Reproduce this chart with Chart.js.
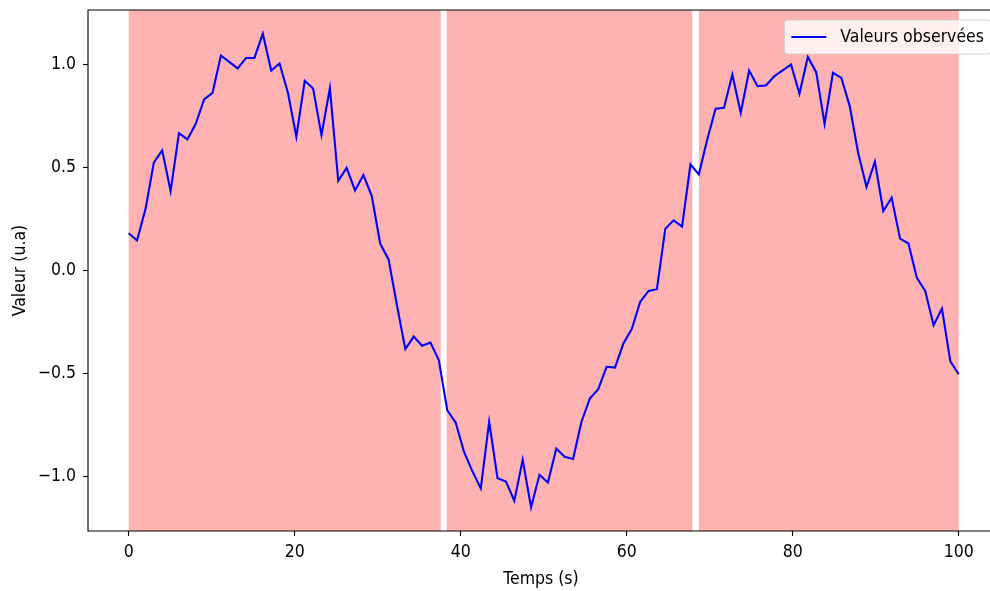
<!DOCTYPE html>
<html lang="fr">
<head>
<meta charset="utf-8">
<title>Valeurs observées</title>
<script src="https://cdn.jsdelivr.net/npm/chart.js@4/dist/chart.umd.min.js"></script>
<style>
  html, body { margin: 0; padding: 0; background: #ffffff; overflow: hidden; }
  canvas { display: block; }
</style>
</head>
<body>
<canvas id="c" width="994" height="591"></canvas>
<script>
// Instants de mesure (s)
const temps = [
  0, 1.01, 2.02, 3.03, 4.04, 5.05, 6.06, 7.07, 8.08, 9.09,
  10.10, 11.11, 12.12, 13.13, 14.14, 15.15, 16.16, 17.17, 18.18, 19.19,
  20.20, 21.21, 22.22, 23.23, 24.24, 25.25, 26.26, 27.27, 28.28, 29.29,
  30.30, 31.31, 32.32, 33.33, 34.34, 35.35, 36.36, 37.37, 38.38, 39.39,
  40.40, 41.41, 42.42, 43.43, 44.44, 45.45, 46.46, 47.47, 48.48, 49.49,
  50.51, 51.52, 52.53, 53.54, 54.55, 55.56, 56.57, 57.58, 58.59, 59.60,
  60.61, 61.62, 62.63, 63.64, 64.65, 65.66, 66.67, 67.68, 68.69, 69.70,
  70.71, 71.72, 72.73, 73.74, 74.75, 75.76, 76.77, 77.78, 78.79, 79.80,
  80.81, 81.82, 82.83, 83.84, 84.85, 85.86, 86.87, 87.88, 88.89, 89.90,
  90.91, 91.92, 92.93, 93.94, 94.95, 95.96, 96.97, 97.98, 98.99, 100
];

// Valeurs observées (u.a)
const valeurs = [
  0.180, 0.145, 0.296, 0.523, 0.583, 0.385, 0.667, 0.636, 0.712, 0.830,
  0.862, 1.044, 1.013, 0.981, 1.032, 1.032, 1.150, 0.971, 1.005, 0.862,
  0.649, 0.921, 0.883, 0.657, 0.885, 0.435, 0.498, 0.388, 0.463, 0.361,
  0.130, 0.053, -0.170, -0.383, -0.322, -0.367, -0.351, -0.437, -0.680, -0.740,
  -0.882, -0.977, -1.060, -0.736, -1.011, -1.027, -1.120, -0.921, -1.152, -0.994,
  -1.031, -0.866, -0.906, -0.917, -0.736, -0.623, -0.578, -0.469, -0.473, -0.356,
  -0.286, -0.154, -0.100, -0.092, 0.202, 0.243, 0.212, 0.515, 0.466, 0.636,
  0.785, 0.790, 0.951, 0.765, 0.971, 0.895, 0.898, 0.943, 0.972, 1.000,
  0.858, 1.037, 0.963, 0.712, 0.960, 0.935, 0.798, 0.571, 0.405, 0.528,
  0.288, 0.353, 0.154, 0.130, -0.036, -0.100, -0.267, -0.186, -0.443, -0.505
];

// Zones surlignées (début / fin, en s)
const zonesDebut = [0, 38.3, 68.7];
const zonesFin = [37.6, 67.9, 100];

// Graduations
const ticksX = [0, 20, 40, 60, 80, 100];
const ticksY = [-1.0, -0.5, 0.0, 0.5, 1.0];

const libelleSerie = 'Valeurs observées';
const titreX = 'Temps (s)';
const titreY = 'Valeur (u.a)';

const POLICE = "'DejaVu Sans Condensed', 'DejaVu Sans', sans-serif";
const TAILLE = 17.5;
const police = { family: POLICE, size: TAILLE };

const moins = s => s.replace('-', '\u2212');

// Bandes rouges translucides derrière la courbe
const pluginZones = {
  id: 'zones',
  beforeDatasetsDraw(chart) {
    const { ctx, chartArea: ca, scales: { x } } = chart;
    ctx.save();
    ctx.fillStyle = 'rgba(255, 0, 0, 0.3)';
    for (let i = 0; i < zonesDebut.length; i++) {
      const x0 = x.getPixelForValue(zonesDebut[i]);
      const x1 = x.getPixelForValue(zonesFin[i]);
      ctx.fillRect(x0, ca.top, x1 - x0, ca.bottom - ca.top);
    }
    ctx.restore();
  }
};

// Axes (gauche, haut, bas) et légende dans le coin supérieur droit
const pluginCadre = {
  id: 'cadre',
  afterDatasetsDraw(chart) {
    const { ctx, chartArea: ca } = chart;
    const w = chart.width;
    ctx.save();
    ctx.strokeStyle = '#000000';
    ctx.lineWidth = 1.1;
    ctx.beginPath();
    ctx.moveTo(w + 5, ca.top);
    ctx.lineTo(ca.left, ca.top);
    ctx.lineTo(ca.left, ca.bottom);
    ctx.lineTo(w + 5, ca.bottom);
    ctx.stroke();

    // Légende
    const ds = chart.data.datasets[0];
    ctx.font = `${TAILLE}px ${POLICE}`;
    const largeurTexte = ctx.measureText(ds.label).width;
    const pad = 0.4 * TAILLE;
    const poignee = 2.0 * TAILLE;
    const ecart = 0.8 * TAILLE;
    const droite = 991;
    const largeur = pad + poignee + ecart + largeurTexte + pad;
    const gauche = droite - largeur;
    const haut = ca.top + 10;
    const hauteur = 34;
    const r = 3.5;
    ctx.beginPath();
    ctx.moveTo(gauche + r, haut);
    ctx.lineTo(droite - r, haut);
    ctx.arcTo(droite, haut, droite, haut + r, r);
    ctx.lineTo(droite, haut + hauteur - r);
    ctx.arcTo(droite, haut + hauteur, droite - r, haut + hauteur, r);
    ctx.lineTo(gauche + r, haut + hauteur);
    ctx.arcTo(gauche, haut + hauteur, gauche, haut + hauteur - r, r);
    ctx.lineTo(gauche, haut + r);
    ctx.arcTo(gauche, haut, gauche + r, haut, r);
    ctx.closePath();
    ctx.fillStyle = 'rgba(255, 255, 255, 0.8)';
    ctx.fill();
    ctx.strokeStyle = 'rgba(204, 204, 204, 0.8)';
    ctx.lineWidth = 1;
    ctx.stroke();

    const yMilieu = haut + hauteur / 2;
    ctx.strokeStyle = ds.borderColor;
    ctx.lineWidth = ds.borderWidth;
    ctx.beginPath();
    ctx.moveTo(gauche + pad, yMilieu);
    ctx.lineTo(gauche + pad + poignee, yMilieu);
    ctx.stroke();

    ctx.fillStyle = '#000000';
    ctx.textAlign = 'left';
    ctx.textBaseline = 'middle';
    ctx.fillText(ds.label, gauche + pad + poignee + ecart, yMilieu + 0.5);
    ctx.restore();
  }
};

const points = temps.map((t, i) => ({ x: t, y: valeurs[i] }));

new Chart(document.getElementById('c'), {
  type: 'line',
  data: {
    datasets: [{
      label: libelleSerie,
      data: points,
      borderColor: '#0000ff',
      borderWidth: 2.1,
      pointRadius: 0,
      tension: 0,
      fill: false
    }]
  },
  options: {
    responsive: false,
    animation: false,
    devicePixelRatio: 1,
    layout: { padding: { top: 10, right: 0, left: 0, bottom: 0 } },
    plugins: { legend: { display: false }, tooltip: { enabled: false } },
    scales: {
      x: {
        type: 'linear',
        min: -4.9,
        max: 104.25,
        afterBuildTicks: s => { s.ticks = ticksX.map(v => ({ value: v })); },
        afterFit: s => { s.height = 60; s.paddingLeft = 0; s.paddingRight = 0; },
        grid: { display: true, drawOnChartArea: false, drawTicks: true, tickLength: 5, tickWidth: 1.1, tickColor: '#000000' },
        border: { display: false },
        ticks: {
          color: '#000000', font: police, padding: 5.5, maxRotation: 0, autoSkip: false,
          callback: v => moins(String(v))
        },
        title: { display: true, text: titreX, color: '#000000', font: police, padding: { top: 0, bottom: 1.5 } }
      },
      y: {
        type: 'linear',
        min: -1.267,
        max: 1.265,
        afterBuildTicks: s => { s.ticks = ticksY.map(v => ({ value: v })); },
        afterFit: s => { s.width = 88; s.paddingTop = 0; s.paddingBottom = 0; },
        grid: { display: true, drawOnChartArea: false, drawTicks: true, tickLength: 5, tickWidth: 1.1, tickColor: '#000000' },
        border: { display: false },
        ticks: {
          color: '#000000', font: police, padding: 7, autoSkip: false,
          callback: v => moins(v.toFixed(1))
        },
        title: { display: true, text: titreY, color: '#000000', font: police, padding: { top: 9.5, bottom: 0 } }
      }
    }
  },
  plugins: [pluginZones, pluginCadre]
});
</script>
</body>
</html>
